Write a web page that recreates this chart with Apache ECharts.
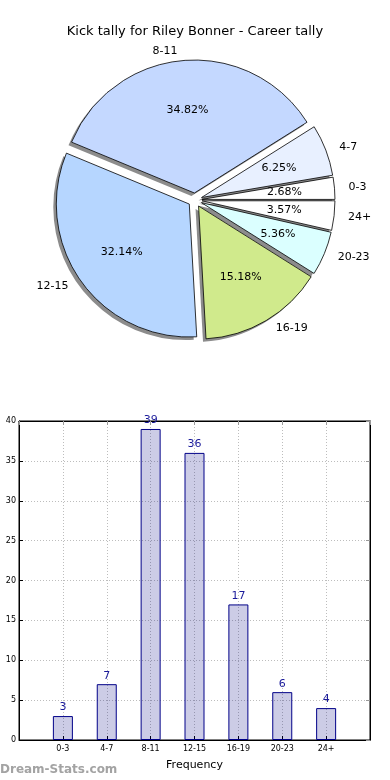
<!DOCTYPE html>
<html>
<head>
<meta charset="utf-8">
<script src="https://cdn.jsdelivr.net/npm/echarts@6/dist/echarts.min.js"></script>
<style>
html,body{margin:0;padding:0;background:#fff;}
#c{width:390px;height:780px;}
</style>
</head>
<body>
<div id="c"></div>
<script>
var titleText = 'Kick tally for Riley Bonner - Career tally';
var categories = ['0-3', '4-7', '8-11', '12-15', '16-19', '20-23', '24+'];
var counts = [3, 7, 39, 36, 17, 6, 4];
var sliceColors = ['#ffffff', '#e8f0ff', '#c4d8ff', '#b6d6ff', '#d0ea8c', '#dbffff', '#ffffff'];
var yTicks = [0, 5, 10, 15, 20, 25, 30, 35, 40];

var total = counts.reduce(function (a, b) { return a + b; }, 0);
var R = 133;
var CX = 195, CY = 200;
var FONT = 'DejaVu Sans';

function pieData(kind) {
  return categories.map(function (c, i) {
    var st;
    if (kind === 'label') st = { color: 'rgba(0,0,0,0)' };
    else if (kind === 'shadow') st = { color: '#8c8c8c' };
    else st = { color: sliceColors[i] };
    return { name: c, value: counts[i], selected: true, itemStyle: st };
  });
}

function pieBase(extra) {
  var s = {
    type: 'pie',
    center: [CX, CY],
    radius: [0, R],
    startAngle: 0,
    clockwise: false,
    selectedMode: 'multiple',
    selectedOffset: 7,
    avoidLabelOverlap: false,
    silent: true
  };
  for (var k in extra) s[k] = extra[k];
  return s;
}

var chart = echarts.init(document.getElementById('c'), null, { renderer: 'canvas' });
chart.setOption({
  animation: false,
  backgroundColor: '#ffffff',
  title: {
    text: titleText,
    left: 'center',
    top: 20,
    textStyle: { fontFamily: FONT, fontSize: 13, fontWeight: 'normal', color: '#000' }
  },
  graphic: [{
    type: 'text',
    left: 0,
    top: 764,
    style: { text: 'Dream-Stats.com', font: 'bold 12px "DejaVu Sans"', fill: '#a3a3a3' }
  }],
  grid: {
    left: 19, right: 20, top: 421, bottom: 40,
    show: true, borderColor: '#000', borderWidth: 1, backgroundColor: '#fff'
  },
  xAxis: [{
    type: 'value',
    min: -1, max: 7, interval: 1,
    name: 'Frequency',
    nameLocation: 'middle',
    nameGap: 20,
    nameTextStyle: { fontFamily: FONT, fontSize: 11, color: '#000' },
    axisLine: { show: true, onZero: false, lineStyle: { color: '#000' } },
    axisTick: { show: true, inside: true, length: 4, lineStyle: { color: '#000' } },
    axisLabel: {
      fontFamily: FONT, fontSize: 8, color: '#000', margin: 5,
      formatter: function (v) { return (v >= 0 && v < categories.length) ? categories[v] : ''; }
    },
    splitLine: { show: true, lineStyle: { color: '#bdbdbd', type: [1, 2], width: 1 } }
  }, {
    type: 'value', position: 'top',
    min: -1, max: 7, interval: 1,
    axisLine: { show: true, onZero: false, lineStyle: { color: '#000' } },
    axisTick: { show: true, inside: true, length: 4, lineStyle: { color: '#999' } },
    axisLabel: { show: false },
    splitLine: { show: false }
  }],
  yAxis: [{
    type: 'value',
    min: 0, max: 40, interval: 5,
    axisLine: { show: true, onZero: false, lineStyle: { color: '#000' } },
    axisTick: { show: true, inside: true, length: 4, lineStyle: { color: '#000' } },
    axisLabel: { fontFamily: FONT, fontSize: 8, color: '#000', margin: 3 },
    splitLine: { show: true, lineStyle: { color: '#bdbdbd', type: [1, 2], width: 1 } }
  }, {
    type: 'value', position: 'right',
    min: 0, max: 40, interval: 5,
    axisLine: { show: true, onZero: false, lineStyle: { color: '#000' } },
    axisTick: { show: true, inside: true, length: 4, lineStyle: { color: '#999' } },
    axisLabel: { show: false },
    splitLine: { show: false }
  }],
  series: [
    pieBase({
      center: [CX - 3, CY + 3],
      data: pieData('shadow'),
      itemStyle: { borderWidth: 0 },
      label: { show: false },
      labelLine: { show: false }
    }),
    pieBase({
      data: pieData('fill'),
      itemStyle: { borderColor: '#000', borderWidth: 0.8 },
      label: {
        show: true, position: 'outside',
        fontFamily: FONT, fontSize: 11, color: '#000',
        formatter: '{b}'
      },
      labelLine: { show: false, length: 9, length2: 0 }
    }),
    pieBase({
      radius: [0, R * 1.2],
      data: pieData('label'),
      itemStyle: { borderWidth: 0 },
      label: {
        show: true, position: 'inside',
        fontFamily: FONT, fontSize: 11, color: '#000',
        formatter: function (p) { return (p.value / total * 100).toFixed(2) + '%'; }
      },
      labelLine: { show: false }
    }),
    {
      type: 'bar',
      xAxisIndex: 0,
      yAxisIndex: 0,
      barWidth: 20,
      data: categories.map(function (c, i) { return [i, counts[i]]; }),
      itemStyle: { color: 'rgba(0,0,128,0.2)', borderColor: '#000088', borderWidth: 1 },
      label: {
        show: true, position: 'top', distance: 3,
        fontFamily: FONT, fontSize: 11, color: '#1a1a9a',
        formatter: function (p) { return p.value[1]; }
      }
    }
  ]
});
</script>
</body>
</html>
